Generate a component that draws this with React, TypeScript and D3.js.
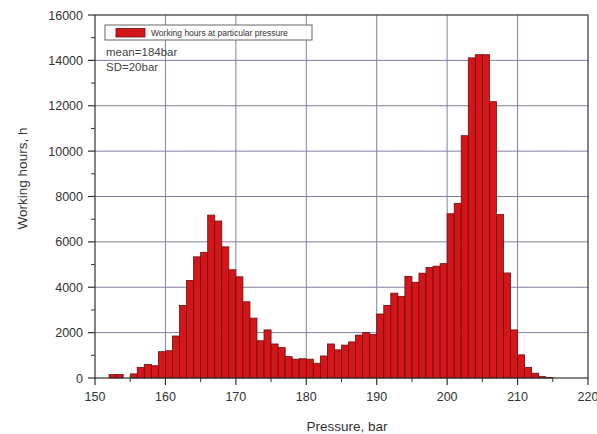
import React from "react";
import * as d3 from "d3";

const pressures: number[] = [
  152, 153, 154, 155, 156, 157, 158, 159, 160, 161, 162, 163, 164, 165, 166, 167, 168, 169, 170,
  171, 172, 173, 174, 175, 176, 177, 178, 179, 180, 181, 182, 183, 184, 185, 186, 187, 188, 189,
  190, 191, 192, 193, 194, 195, 196, 197, 198, 199, 200, 201, 202, 203, 204, 205, 206, 207, 208,
  209, 210, 211, 212, 213, 214,
];
const hours: number[] = [
  150, 150, 0, 180, 460, 600, 540, 1160, 1200, 1850, 3200, 4300, 5340, 5540, 7180, 6920, 5780, 4770, 4460,
  3360, 2640, 1640, 2120, 1500, 1340, 940, 830, 850, 830, 650, 970, 1500, 1240, 1450, 1590, 1890, 2000, 1920,
  2820, 3200, 3740, 3600, 4480, 4220, 4620, 4870, 4930, 5040, 7240, 7700, 10680, 14110, 14250, 14250, 12180, 7210, 4630,
  2120, 1020, 470, 210, 60, 20,
];
const xTicks: number[] = [150, 160, 170, 180, 190, 200, 210, 220];
const xMinor: number[] = [155, 165, 175, 185, 195, 205, 215];
const yTicks: number[] = [0, 2000, 4000, 6000, 8000, 10000, 12000, 14000, 16000];
const yMinor: number[] = [1000, 3000, 5000, 7000, 9000, 11000, 13000, 15000];
const legendLabel = "Working hours at particular pressure";
const statLines: string[] = ["mean=184bar", "SD=20bar"];
const xTitle = "Pressure, bar";
const yTitle = "Working hours, h";

const W = 597;
const H = 434;
const L = 95, R = 588, T = 15, B = 378;
const font = "'Liberation Sans', Arial, sans-serif";

export default function App() {
  const x = d3.scaleLinear().domain([150, 220]).range([L, R]);
  const y = d3.scaleLinear().domain([0, 16000]).range([B, T]);
  const grid = "#8080a8";
  return (
    <svg width={W} height={H} style={{ position: "absolute", left: 0, top: 0, background: "#fff" }}>
      <rect x={0} y={0} width={W} height={H} fill="#fff" />
      {/* grid */}
      {xTicks.slice(1, -1).map((t) => (
        <line key={"gx" + t} x1={x(t)} x2={x(t)} y1={T} y2={B} stroke={grid} strokeWidth={1} />
      ))}
      {yTicks.slice(1, -1).map((t) => (
        <line key={"gy" + t} x1={L} x2={R} y1={y(t)} y2={y(t)} stroke={grid} strokeWidth={1} />
      ))}
      {/* bars */}
      {pressures.map((p, i) =>
        hours[i] > 0 ? (
          <rect
            key={"b" + p}
            x={x(p)}
            y={y(hours[i])}
            width={x(p + 1) - x(p)}
            height={B - y(hours[i])}
            fill="#d4161b"
            stroke="#6e0b0b"
            strokeWidth={0.8}
          />
        ) : null
      )}
      {/* frame */}
      <rect x={L} y={T} width={R - L} height={B - T} fill="none" stroke="#333" strokeWidth={1.2} />
      {/* y ticks */}
      {yTicks.map((t) => (
        <g key={"yt" + t}>
          <line x1={L - 7} x2={L} y1={y(t)} y2={y(t)} stroke="#333" strokeWidth={1.2} />
          <text x={83} y={y(t) + 4.5} textAnchor="end" fontSize={12.5} fontFamily={font} fill="#333">
            {t}
          </text>
        </g>
      ))}
      {yMinor.map((t) => (
        <line key={"ym" + t} x1={L - 4} x2={L} y1={y(t)} y2={y(t)} stroke="#333" strokeWidth={1} />
      ))}
      {/* x ticks */}
      {xTicks.map((t) => (
        <g key={"xt" + t}>
          <line x1={x(t)} x2={x(t)} y1={B} y2={B + 7} stroke="#333" strokeWidth={1.2} />
          <text x={x(t)} y={401} textAnchor="middle" fontSize={12.5} fontFamily={font} fill="#333">
            {t}
          </text>
        </g>
      ))}
      {xMinor.map((t) => (
        <line key={"xm" + t} x1={x(t)} x2={x(t)} y1={B} y2={B + 4} stroke="#333" strokeWidth={1} />
      ))}
      {/* axis titles */}
      <text x={347} y={431} textAnchor="middle" fontSize={13.5} fontFamily={font} fill="#333">
        {xTitle}
      </text>
      <text
        transform={`translate(27,${(T + B) / 2 - 18}) rotate(-90)`}
        textAnchor="middle"
        fontSize={13.5}
        fontFamily={font}
        fill="#333"
      >
        {yTitle}
      </text>
      {/* legend */}
      <rect x={105} y={25} width={207} height={15} fill="#fff" stroke="#666" strokeWidth={1} />
      <rect x={116} y={28.5} width={29} height={8.5} fill="#d4161b" stroke="#6e0b0b" strokeWidth={0.8} />
      <text x={151} y={36} fontSize={8.5} fontFamily={font} fill="#333">
        {legendLabel}
      </text>
      {statLines.map((s, i) => (
        <text key={s} x={106} y={56 + i * 14.5} fontSize={11.5} fontFamily={font} fill="#444">
          {s}
        </text>
      ))}
    </svg>
  );
}
